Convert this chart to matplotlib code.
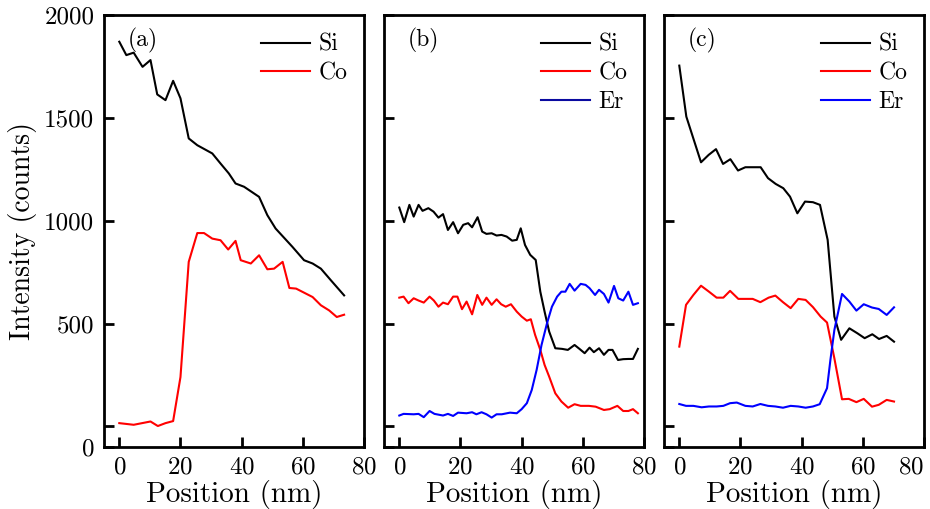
"""
EDS line scans of Si / Co / Er intensity across three samples.
"""
import matplotlib
matplotlib.use('Agg')
import matplotlib.pyplot as plt

plt.rcParams['font.family'] = 'cmr10'
plt.rcParams['axes.formatter.use_mathtext'] = True

# panel (a)
a_si_x = [0, 2.3, 4.7, 7.6, 10.2, 12.4, 15.1, 17.6, 20, 22.7, 25.5, 30.4, 33.1, 35.8, 38,
          40.8, 45.7, 48.4, 51.1, 56.6, 60.4, 63.2, 65.9, 69.2, 73.5]
a_si = [1870, 1805, 1817, 1748, 1781, 1614, 1586, 1680, 1595, 1400, 1367, 1327, 1278, 1230, 1181,
        1165, 1116, 1027, 962, 873, 808, 792, 767, 710, 637]
a_co_x = [0, 4.7, 10.2, 12.6, 15.1, 17.6, 20, 22.7, 25.5, 27.7, 30.4, 33.1, 35.6, 38, 39.7,
          43, 45.7, 48.4, 50.6, 53.4, 55.6, 57.8, 63.2, 65.9, 68.6, 71.1, 73.5]
a_co = [16, 8, 24, 2, 16, 26, 240, 800, 940, 940, 913, 905, 860, 902, 808,
        792, 832, 764, 767, 800, 673, 670, 629, 589, 564, 532, 543]

# panel (b)
b_si_x = [0, 1.6, 3.3, 4.7, 6.3, 7.6, 9.5, 11.2, 12.8, 14.3, 15.9, 17.6, 19.2, 20.9, 22.5, 23.8,
          25.6, 27.1, 28.5, 30.2, 31.8, 33.4, 35.1, 36.9, 38.4, 39.7, 41.1, 42.8, 44.6, 46.1, 47.5,
          49, 51, 53.2, 55.1, 57.3, 58.9, 60.6, 62.2, 63.6, 65.3, 66.9, 68.4, 69.7, 71.5, 73.2,
          74.9, 76.4, 78]
b_si = [1064, 993, 1077, 1020, 1077, 1048, 1061, 1044, 1015, 1032, 955, 993, 939, 980, 988, 968,
        1017, 947, 936, 939, 928, 931, 923, 903, 907, 963, 882, 834, 809, 655, 558,
        461, 380, 377, 372, 396, 377, 356, 383, 361, 380, 348, 372, 372, 323, 327,
        328, 328, 377]
b_co_x = [0, 1.4, 3, 4.7, 6.3, 8, 9.9, 11.3, 12.8, 14.3, 15.9, 17.6, 19, 20.5, 22, 23.8, 25.5,
          27.1, 28.5, 30.2, 31.8, 33.3, 34.8, 36.5, 38.4, 40, 41.7, 43, 44.4, 46.1, 47.5, 49,
          51, 53, 55.2, 57.3, 59.3, 62, 64.2, 66.9, 68.8, 71.3, 73.2, 74.9, 76.4, 78]
b_co = [626, 631, 599, 623, 612, 602, 631, 612, 582, 602, 594, 631, 631, 570, 607, 545, 639,
        591, 626, 591, 618, 594, 582, 594, 558, 534, 514, 521, 445, 372, 299, 242,
        161, 121, 91, 108, 100, 100, 96, 80, 84, 100, 75, 75, 84, 64]
b_er_x = [0, 1.4, 4.7, 6.3, 8, 9.9, 11.5, 14.3, 15.9, 17.6, 19.2, 22, 23.8, 25.2, 26.9, 28.5,
          30.2, 31.8, 33.5, 36.2, 38.4, 40, 41.7, 43.3, 44.9, 46.5, 48.3, 49.9, 51.6, 53, 54.3,
          55.7, 57.3, 59.3, 60.9, 62.2, 64, 65.3, 66.9, 68.4, 70.2, 71.6, 73.2, 74.9, 76.4, 78]
b_er = [53, 61, 59, 61, 45, 75, 61, 53, 61, 51, 67, 64, 69, 59, 69, 59,
        43, 59, 59, 67, 64, 84, 113, 177, 275, 396, 502, 582, 631, 655, 655,
        693, 660, 693, 688, 672, 639, 664, 644, 602, 683, 623, 612, 655, 591, 599]

# panel (c)
c_si_x = [0, 2.3, 7.1, 9.6, 12, 14.3, 16.7, 19.2, 21.6, 26.6, 29, 31.5, 34, 36.2, 38.6, 41.1,
          43.7, 46, 48.5, 50.7, 52.9, 55.6, 58.2, 60.6, 63.1, 65.3, 67.8, 70.2]
c_si = [1754, 1506, 1284, 1320, 1348, 1276, 1299, 1244, 1260, 1260, 1207, 1179, 1158, 1117, 1036, 1093,
        1090, 1077, 907, 534, 421, 477, 453, 429, 448, 425, 440, 412]
c_co_x = [0, 2.2, 4.6, 7.1, 9.7, 12.2, 14.4, 16.6, 19.3, 24, 26.5, 29.2, 31.4, 33.9, 36.4, 38.9,
          41.3, 43.7, 46.2, 48.3, 50.7, 53.2, 55.4, 57.9, 60.3, 63, 65.2, 67.8, 70.2]
c_co = [388, 591, 639, 684, 655, 626, 626, 659, 620, 620, 604, 626, 636, 604, 575, 620,
        615, 580, 534, 505, 331, 132, 134, 118, 134, 96, 105, 129, 121]
c_er_x = [0, 2.2, 4.6, 7.3, 9.7, 12.2, 14.4, 16.6, 18.8, 21.6, 24, 26.5, 29, 31.4, 33.9, 36.4,
          38.9, 41.3, 43.7, 45.9, 48.3, 49.4, 50.7, 53.2, 55.6, 57.9, 60.3, 63, 65.2, 67.8, 70.2]
c_er = [109, 100, 100, 93, 97, 97, 100, 113, 116, 100, 97, 109, 100, 97, 91, 100,
        97, 91, 97, 108, 186, 323, 469, 644, 607, 563, 594, 578, 571, 542, 579]

yticks = [-100, 0, 500, 1000, 1500, 2000]
ylabels = ['0', '', '500', '1000', '1500', '2000']
xticks = [0, 20, 40, 60, 80]

panels = [
    ('(a)', [('Si', a_si_x, a_si, 'black'), ('Co', a_co_x, a_co, 'red')]),
    ('(b)', [('Si', b_si_x, b_si, 'black'), ('Co', b_co_x, b_co, 'red'), ('Er', b_er_x, b_er, 'blue')]),
    ('(c)', [('Si', c_si_x, c_si, 'black'), ('Co', c_co_x, c_co, 'red'), ('Er', c_er_x, c_er, 'blue')]),
]

W, H = 930, 509
fig = plt.figure(figsize=(W / 100, H / 100), dpi=100)
lefts = [104, 384, 664]
for i, (tag, series) in enumerate(panels):
    ax = fig.add_axes([lefts[i] / W, (H - 447) / H, 260 / W, 432 / H])
    for name, xs, ys, col in series:
        ax.plot(xs, ys, color=col, lw=1.5, label=name)
    ax.set_xlim(-5, 80)
    ax.set_ylim(-100, 2000)
    ax.set_xticks(xticks)
    ax.set_yticks(yticks)
    if i == 0:
        ax.set_yticklabels(ylabels)
        ax.set_ylabel('Intensity (counts)', fontsize=20, labelpad=5)
    else:
        ax.set_yticklabels([])
    ax.tick_params(direction='in', length=7, width=2, labelsize=18, pad=7,
                   top=False, right=False)
    if i == 2:
        # last x label sits flush with the figure edge
        ax.get_xticklabels()[-1].set_horizontalalignment('right')
        ax.get_xticklabels()[-1].set_x(80)
    for sp in ax.spines.values():
        sp.set_linewidth(2)
    ax.set_xlabel('Position (nm)', fontsize=21, labelpad=1)
    ax.text(0.09, 0.97, tag, transform=ax.transAxes, fontsize=17, va='top', ha='left')
    leg = ax.legend(loc='upper right', bbox_to_anchor=(1.0, 0.995), frameon=False, fontsize=17,
                    handlelength=2.1, handletextpad=0.35, labelspacing=0.28, borderaxespad=0.3)
    if i == 1:
        leg.get_lines()[2].set_color('#0a0aa0')

plt.savefig('out.png', dpi=100)
plt.close()
